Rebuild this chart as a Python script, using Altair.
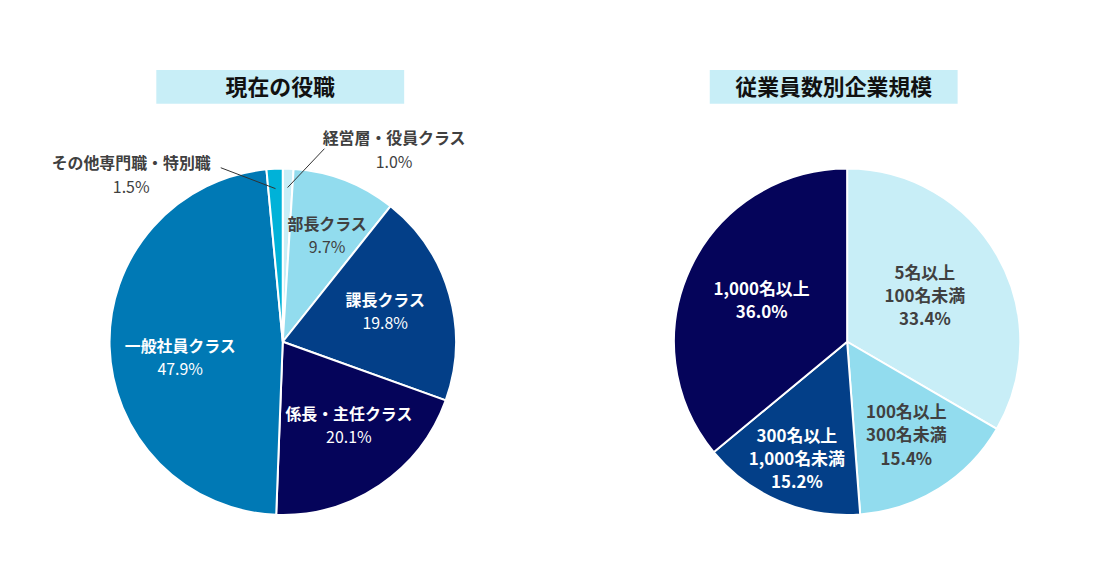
import altair as alt
import pandas as pd

FONT = "Noto Sans CJK JP"

# ---- data ----
titles = ["現在の役職", "従業員数別企業規模"]

roles = ["経営層・役員クラス", "部長クラス", "課長クラス", "係長・主任クラス", "一般社員クラス", "その他専門職・特別職"]
role_values = [1.0, 9.7, 19.8, 20.1, 47.9, 1.5]

sizes = ["5名以上\n100名未満", "100名以上\n300名未満", "300名以上\n1,000名未満", "1,000名以上"]
size_values = [33.4, 15.4, 15.2, 36.0]

# ---- styles ----
role_colors = ["#c8eef7", "#92dcee", "#033f88", "#05045a", "#0079b5", "#00b2d8"]
size_colors = ["#c8eef7", "#92dcee", "#033f88", "#05045a"]
DARK_TEXT = "#404040"
TITLE_BG = "#c8eef7"

PANEL_W, PANEL_H = 545, 560
R = 174
LINE_H = 23.5


def frame(cats, vals):
    return pd.DataFrame({"cat": cats, "value": vals, "idx": list(range(len(cats)))})


def pie_base(df):
    return (
        alt.Chart(df)
        .transform_window(cum="sum(value)", sort=[alt.SortField("idx", order="ascending")], frame=[None, 0])
        .transform_joinaggregate(total="sum(value)")
        .transform_calculate(
            mid="(datum.cum - datum.value / 2) / datum.total * 2 * PI",
            pct="format(datum.value, '.1f') + '%'",
            full="datum.cat + '\\n' + format(datum.value, '.1f') + '%'",
        )
    )


def arc_layer(df, cats, colors, cx, cy):
    return alt.Chart(df).mark_arc(outerRadius=R, stroke="white", strokeWidth=2).encode(
        theta=alt.Theta("value:Q", stack=True),
        color=alt.Color("cat:N", scale=alt.Scale(domain=cats, range=colors), legend=None),
        order=alt.Order("idx:Q"),
        x=alt.value(cx),
        y=alt.value(cy),
    )


def placed(df, i, cx, cy, r, dx, dy):
    return pie_base(df).transform_filter(f"datum.idx == {i}").transform_calculate(
        lx=f"{cx} + {r} * sin(datum.mid) + ({dx})",
        ly=f"{cy} - {r} * cos(datum.mid) + ({dy})",
    )


XY = dict(
    x=alt.X("lx:Q", scale=None, axis=None),
    y=alt.Y("ly:Q", scale=None, axis=None),
)


def two_line_label(df, i, cx, cy, r, dx, dy, color):
    b = placed(df, i, cx, cy, r, dx, dy)
    name = b.mark_text(font=FONT, fontSize=16, fontWeight="bold", color=color, dy=-11.5).encode(
        text="cat:N", **XY)
    pct = b.mark_text(font=FONT, fontSize=16, fontWeight="normal", color=color, dy=11.5).encode(
        text="pct:N", **XY)
    return [name, pct]


def multi_label(df, i, cx, cy, r, dx, dy, color):
    n_lines = str(df["cat"][i]).count("\n") + 2
    b = placed(df, i, cx, cy, r, dx, dy)
    return [b.mark_text(font=FONT, fontSize=17, fontWeight="bold", color=color,
                        lineBreak="\n", lineHeight=LINE_H,
                        dy=-(n_lines - 1) * LINE_H / 2).encode(text="full:N", **XY)]


def leader_label(df, i, cx, cy, r1, ldx, ldy, tdx, tdy, color):
    b = pie_base(df).transform_filter(f"datum.idx == {i}").transform_calculate(
        sx=f"{cx} + {r1} * sin(datum.mid)",
        sy=f"{cy} - {r1} * cos(datum.mid)",
    ).transform_calculate(
        ex=f"datum.sx + ({ldx})",
        ey=f"datum.sy + ({ldy})",
    ).transform_calculate(
        lx=f"datum.ex + ({tdx})",
        ly=f"datum.ey + ({tdy})",
    )
    rule = b.mark_rule(color="#303030", strokeWidth=1).encode(
        x=alt.X("sx:Q", scale=None, axis=None),
        y=alt.Y("sy:Q", scale=None, axis=None),
        x2="ex:Q",
        y2="ey:Q",
    )
    name = b.mark_text(font=FONT, fontSize=16, fontWeight="bold", color=color, dy=-12).encode(
        text="cat:N", **XY)
    pct = b.mark_text(font=FONT, fontSize=16, fontWeight="normal", color=color, dy=12).encode(
        text="pct:N", **XY)
    return [rule, name, pct]


def title_layers(title, x0, x1, y0, y1):
    tdf = pd.DataFrame({"title": [title]})
    rect = alt.Chart(tdf).mark_rect(color=TITLE_BG).encode(
        x=alt.value(x0), x2=alt.value(x1), y=alt.value(y0), y2=alt.value(y1))
    txt = alt.Chart(tdf).mark_text(font=FONT, fontSize=22, fontWeight="bold", color="#111111").encode(
        text="title:N", x=alt.value((x0 + x1) / 2), y=alt.value((y0 + y1) / 2 + 1))
    return [rect, txt]


# ---- left panel ----
ldf = frame(roles, role_values)
lcx, lcy = 276, 334
left_layers = [arc_layer(ldf, roles, role_colors, lcx, lcy)]
left_layers += two_line_label(ldf, 1, lcx, lcy, 113, 4, 0, DARK_TEXT)
left_layers += two_line_label(ldf, 2, lcx, lcy, 107, 0, 0, "white")
left_layers += two_line_label(ldf, 3, lcx, lcy, 108, 6, -4, "white")
left_layers += two_line_label(ldf, 4, lcx, lcy, 103, 0, 14, "white")
left_layers += leader_label(ldf, 0, lcx, lcy, 155, 37, -39, 70, 2, DARK_TEXT)
left_layers += leader_label(ldf, 5, lcx, lcy, 154, -55, -21, -90, 8, DARK_TEXT)
left_layers += title_layers(titles[0], 149, 398, 61, 95)
left = alt.layer(*left_layers).properties(width=PANEL_W, height=PANEL_H)

# ---- right panel ----
rdf = frame(sizes, size_values)
rcx, rcy = 298, 334
right_layers = [arc_layer(rdf, sizes, size_colors, rcx, rcy)]
right_layers += multi_label(rdf, 0, rcx, rcy, 90, 0, 0, DARK_TEXT)
right_layers += multi_label(rdf, 1, rcx, rcy, 112, 0, 0, DARK_TEXT)
right_layers += multi_label(rdf, 2, rcx, rcy, 129, 0, 0, "white")
right_layers += multi_label(rdf, 3, rcx, rcy, 95, 0, 0, "white")
right_layers += title_layers(titles[1], 160, 409, 61, 95)
right = alt.layer(*right_layers).properties(width=PANEL_W, height=PANEL_H)

chart = (
    alt.hconcat(left, right, spacing=0)
    .properties(padding=0, background="white")
    .configure_view(stroke=None)
)

chart.save("out.html", embed_options={"renderer": "svg", "actions": False})
